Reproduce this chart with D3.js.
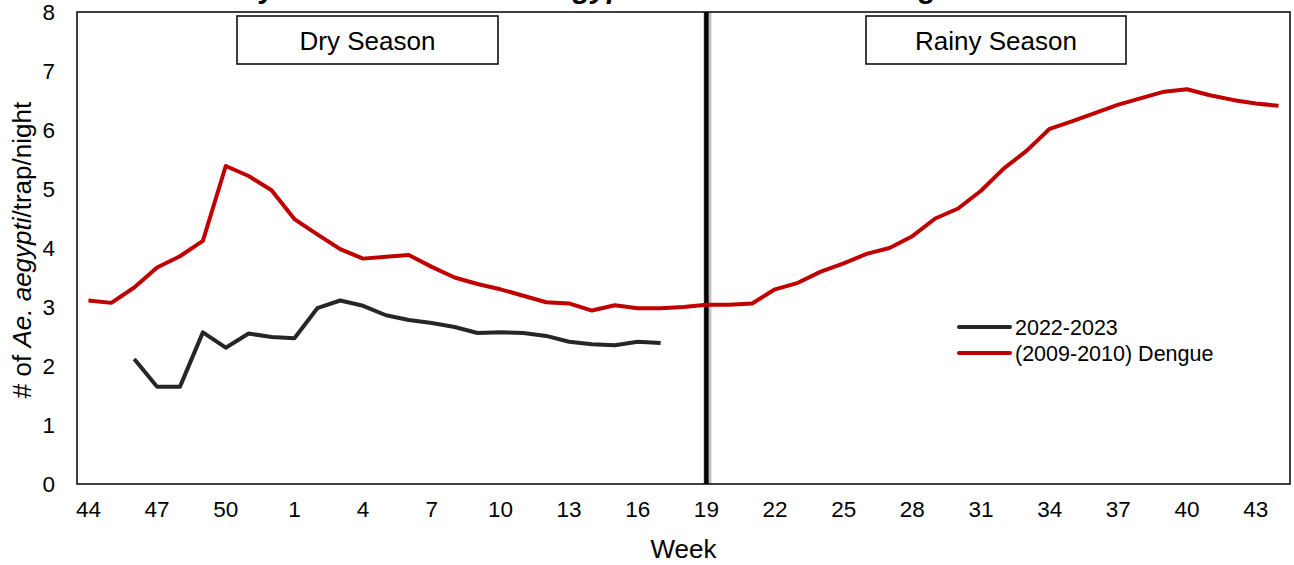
<!DOCTYPE html>
<html>
<head>
<meta charset="utf-8">
<script src="https://cdn.jsdelivr.net/npm/d3@7"></script>
<style>
    body { margin: 0; background: #fff; }
    svg { font-family: "Liberation Sans", Arial, sans-serif; }
</style>
</head>
<body>
<div id="chart"></div>
<script>
//DATA
const weeks = [44, 45, 46, 47, 48, 49, 50, 51, 52,
    1, 2, 3, 4, 5, 6, 7, 8, 9, 10, 11, 12, 13, 14, 15, 16, 17, 18, 19, 20,
    21, 22, 23, 24, 25, 26, 27, 28, 29, 30, 31, 32, 33, 34, 35, 36, 37, 38, 39, 40,
    41, 42, 43, 44];
const yTicks = [0, 1, 2, 3, 4, 5, 6, 7, 8];

// 2022-2023 (starts week 46, ends week 17)
const season2022 = [null, null, 2.12, 1.65, 1.65, 2.57, 2.31, 2.55, 2.49,
    2.47, 2.98, 3.11, 3.02, 2.86, 2.78, 2.73, 2.66, 2.56, 2.57, 2.56, 2.51, 2.41, 2.37, 2.35, 2.41, 2.39];

// (2009-2010) Dengue
const dengue = [3.11, 3.07, 3.33, 3.67, 3.86, 4.12, 5.39, 5.22, 4.98,
    4.49, 4.23, 3.98, 3.82, 3.85, 3.88, 3.68, 3.50, 3.39, 3.30, 3.19, 3.08, 3.06, 2.94, 3.03, 2.98, 2.98, 3.00, 3.04, 3.04,
    3.06, 3.30, 3.41, 3.60, 3.74, 3.90, 4.00, 4.20, 4.50, 4.67, 4.97, 5.35, 5.65, 6.02, 6.15, 6.29, 6.43, 6.54, 6.65, 6.69,
    6.59, 6.51, 6.45, 6.41];

const seriesNames = ["2022-2023", "(2009-2010) Dengue"];
const seriesColors = ["#262626", "#C00000"];
const seasonLabels = ["Dry Season", "Rainy Season"];
const seasonSplitWeek = 19;

//LAYOUT
const W = 1294, H = 565;
const margin = {top: 12, right: 4, bottom: 81, left: 77};
const width = W - margin.left - margin.right;
const height = H - margin.top - margin.bottom;

const svg = d3.select("#chart").append("svg").attr("width", W).attr("height", H);

//TITLE (cut off by the top edge, only descenders show)
svg.append("text")
    .attr("x", 606).attr("y", -2)
    .attr("text-anchor", "middle")
    .style("font-size", "29.5px").style("font-weight", "bold")
    .html('Weekly Abundance of <tspan font-style="italic">Ae. aegypti</tspan> Relative to the Dengue Year');

const g = svg.append("g").attr("transform", "translate(" + margin.left + "," + margin.top + ")");

//SCALES
const idx = weeks.map((d, i) => i);
const x = d3.scaleBand().domain(idx).range([0, width]);
const xc = i => x(i) + x.bandwidth() / 2;
const y = d3.scaleLinear().domain([0, 8]).range([height, 0]);

//AXES
const xAxis = d3.axisBottom(x)
    .tickValues(idx.filter(i => i % 3 === 0 && i < 52))
    .tickFormat(i => weeks[i])
    .tickSize(0).tickPadding(17);
g.append("g").attr("transform", "translate(0," + height + ")").call(xAxis)
    .call(a => a.select(".domain").remove())
    .selectAll("text").style("font-size", "22.5px").style("font-family", "Liberation Sans, Arial").attr("fill", "#000");

const yAxis = d3.axisLeft(y).tickValues(yTicks).tickSize(0).tickPadding(22);
g.append("g").call(yAxis)
    .call(a => a.select(".domain").remove())
    .selectAll("text").style("font-size", "22.5px").style("font-family", "Liberation Sans, Arial").attr("fill", "#000");

//FRAME
g.append("rect").attr("width", width).attr("height", height)
    .attr("fill", "none").attr("stroke", "#000").attr("stroke-width", 1.5);

//SEASON DIVIDER
const splitX = xc(weeks.indexOf(seasonSplitWeek, 9));
g.append("line").attr("x1", splitX + 1).attr("x2", splitX + 1).attr("y1", 0).attr("y2", height)
    .attr("stroke", "#000").attr("stroke-opacity", 0.25).attr("stroke-width", 8);
g.append("line").attr("x1", splitX).attr("x2", splitX).attr("y1", 0).attr("y2", height)
    .attr("stroke", "#000").attr("stroke-width", 4.5);

//SEASON BOXES
const boxes = [{label: seasonLabels[0], x: 237, w: 261}, {label: seasonLabels[1], x: 866, w: 260}];
boxes.forEach(b => {
    svg.append("rect").attr("x", b.x).attr("y", 16).attr("width", b.w).attr("height", 48)
        .attr("fill", "#fff").attr("stroke", "#000").attr("stroke-width", 1.5);
    svg.append("text").attr("x", b.x + b.w / 2).attr("y", 50).attr("text-anchor", "middle")
        .style("font-size", "26px").text(b.label);
});

//LINES
const line = d3.line()
    .defined(d => d != null)
    .x((d, i) => xc(i))
    .y(d => y(d));
[season2022, dengue].forEach((s, k) => {
    g.append("path").datum(s)
        .attr("fill", "none").attr("stroke", seriesColors[k])
        .attr("stroke-width", 4).attr("stroke-linejoin", "round")
        .attr("d", line);
});

//LEGEND
seriesNames.forEach((name, k) => {
    const ly = 327 + k * 26;
    svg.append("line").attr("x1", 959).attr("x2", 1010).attr("y1", ly).attr("y2", ly)
        .attr("stroke", seriesColors[k]).attr("stroke-width", 4).attr("stroke-linecap", "round");
    svg.append("text").attr("x", 1015).attr("y", ly + 7.5).style("font-size", "21.5px").text(name);
});

//AXIS TITLES
svg.append("text").attr("x", margin.left + width / 2).attr("y", 558)
    .attr("text-anchor", "middle").style("font-size", "26px").text("Week");
svg.append("text")
    .attr("transform", "translate(31," + (margin.top + height / 2 + 2) + ") rotate(-90)")
    .attr("text-anchor", "middle").style("font-size", "26px")
    .html('# of <tspan font-style="italic">Ae. aegypti</tspan>/trap/night');
</script>
</body>
</html>
